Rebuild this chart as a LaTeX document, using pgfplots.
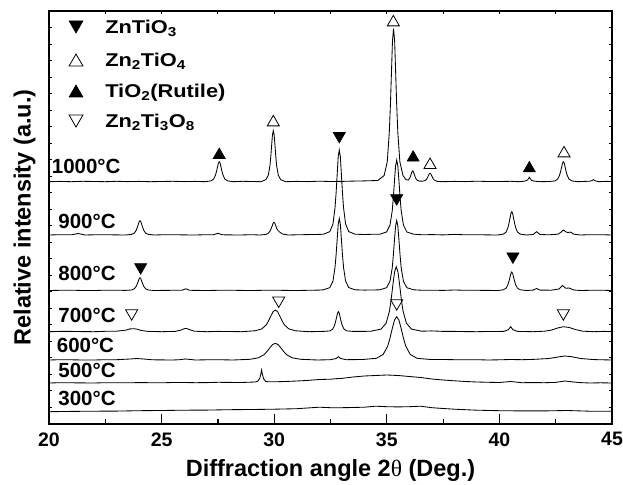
\documentclass[border=0pt]{standalone}
\usepackage{pgfplots}
\pgfplotsset{compat=1.18}
\usepackage{fontspec}
\setmainfont{Liberation Sans}
\newfontfamily\greekserif{Liberation Serif}
\newfontfamily\legfont{Liberation Sans}[FakeStretch=1.18]

\pgfplotsset{
  xrd/.style={black, line width=0.85pt, no markers, forget plot},
  peakdn/.style={only marks, mark=triangle*, mark size=7pt, forget plot,
    mark options={rotate=180, fill=black, draw=black, line width=0.6pt}},
  peakdnopen/.style={only marks, mark=triangle, mark size=7pt, forget plot,
    mark options={rotate=180, draw=black, line width=0.8pt}},
  peakup/.style={only marks, mark=triangle*, mark size=7pt, forget plot,
    mark options={fill=black, draw=black, line width=0.6pt}},
  peakupopen/.style={only marks, mark=triangle, mark size=7pt, forget plot,
    mark options={draw=black, line width=0.8pt}},
}

\begin{document}
\begin{tikzpicture}
\useasboundingbox (-49pt,-60pt) rectangle (574pt,424pt);

% frame, bottom ticks, labels, data
\begin{axis}[
  scale only axis, width=563pt, height=413pt,
  xmin=20, xmax=45, ymin=0, ymax=413,
  axis line style={line width=1.6pt},
  xtick={20,25,30,35,40,45},
  xticklabels={20,25,30,35,40,45},
  minor xtick={22.5,27.5,32.5,37.5,42.5},
  xtick pos=left, ytick=\empty,
  tick align=inside,
  major tick length=9.5pt, minor tick length=4.7pt,
  tick style={line width=1.2pt, black},
  xticklabel style={font=\bfseries\fontsize{19.5}{22}\selectfont, yshift=-5pt},
  xlabel={Diffraction angle 2{\greekserif\mdseries θ} (Deg.)},
  xlabel style={font=\bfseries\fontsize{23.5}{26}\selectfont,
    at={(axis description cs:0.5,0)}, anchor=base, yshift=-52pt},
  ylabel={Relative intensity (a.u.)},
  ylabel style={font=\bfseries\fontsize{23.5}{26}\selectfont,
    at={(axis description cs:-0.0328,0.5)}, anchor=base},
]

% 1000 C
\addplot[xrd, yshift=242.3pt] coordinates {
(20,0)(20.5,0.3)(21,0)(21.5,0.4)(22,0.2)(22.5,0)(23,0.4)(23.5,0.1)(24,0.3)(24.5,0)
(25,0.2)(25.5,0.4)(26,0.1)(26.5,0.3)(26.935,0)
(27.185,0.8)(27.31,2.6)(27.39,6.4)(27.435,10)(27.48,14.4)(27.52,18.4)(27.56,20)
(27.60,18.4)(27.64,14.4)(27.685,10)(27.73,6.4)(27.81,2.6)(27.935,0.8)(28.185,0)
(28.6,0.4)(29,0.2)(29.41,0)
(29.63,2)(29.74,6.6)(29.813,16.3)(29.85,25.5)(29.887,36.7)(29.923,46.9)(29.96,51)
(29.997,46.9)(30.033,36.7)(30.07,25.5)(30.107,16.3)(30.18,6.6)(30.29,2)(30.51,0)
(31,0.3)(31.5,0.1)(32,0.5)(32.5,0.2)(33,0.3)(33.5,0.6)(34,0.8)(34.3,1)(34.6,1.2)
(34.88,6.1)(35.02,19.9)(35.11,49)(35.16,76.5)(35.208,110)(35.252,140.8)(35.3,153)
(35.348,140.8)(35.392,110)(35.44,76.5)(35.49,49)(35.58,19.9)(35.72,6.1)
(35.85,2)(35.95,1.6)(36.016,3.4)(36.05,5.35)(36.084,7.7)(36.116,9.8)(36.15,10.7)
(36.184,9.8)(36.216,7.7)(36.25,5.35)(36.284,3.4)(36.35,1.4)(36.45,0.6)(36.59,0.5)
(36.70,1.1)(36.773,2.7)(36.81,4.2)(36.847,6)(36.883,7.7)(36.92,8.4)(36.957,7.7)
(36.993,6)(37.03,4.2)(37.067,2.7)(37.14,1.1)(37.25,0.3)(37.47,0)
(38,0.3)(38.5,0.1)(39,0.5)(39.5,0.2)(40,0.2)(40.5,0.4)(40.9,0)
(41.13,0.6)(41.23,1.4)(41.28,2.6)(41.33,4.4)(41.38,2.6)(41.43,1.4)(41.53,0.6)(41.8,0)
(42.215,0.2)(42.465,0.8)(42.59,2.6)(42.67,6.4)(42.715,10)(42.76,14.4)(42.80,18.4)
(42.84,20)(42.88,18.4)(42.92,14.4)(42.965,10)(43.01,6.4)(43.09,2.6)(43.215,0.8)
(43.465,0)(43.8,0.3)(44.0,0.5)(44.1,1)(44.17,2)(44.24,1)(44.4,0)(44.7,0.3)(45,0.2)
};

% 900 C
\addplot[xrd, yshift=189pt] coordinates {
(20,0)(20.5,0.3)(21,0.2)(21.3,1.5)(21.6,0)(22,0.2)(22.5,0.3)(23,0.1)(23.4,0)
(23.665,0.6)(23.79,1.9)(23.87,4.6)(23.915,7.2)(23.96,10.3)(24.0,13.2)(24.04,14.3)
(24.08,13.2)(24.12,10.3)(24.165,7.2)(24.21,4.6)(24.29,1.9)(24.415,0.6)(24.665,0)
(25,0.2)(25.5,0.3)(26,0.1)(26.5,0)(27,0.3)(27.3,0.2)(27.5,1.7)(27.7,0.2)(28,0.1)
(28.5,0)(29,0.3)(29.365,0)
(29.615,0.5)(29.74,1.7)(29.82,4.1)(29.865,6.4)(29.91,9.1)(29.95,11.7)(29.99,12.7)
(30.03,11.7)(30.07,9.1)(30.115,6.4)(30.16,4.8)(30.24,3.0)(30.365,1.0)(30.615,0)
(31,0.2)(31.5,0.4)(32,0.6)
(32.19,0.8)(32.47,3.4)(32.61,11)(32.70,27.2)(32.75,42.5)(32.798,61.2)(32.842,78.2)
(32.89,85)(32.938,78.2)(32.982,61.2)(33.03,42.5)(33.08,27.2)(33.17,11)(33.31,3.4)
(33.59,0.8)(34,0.5)(34.5,0.8)
(34.69,0.8)(34.99,3)(35.14,9.8)(35.24,24)(35.29,37.5)(35.34,54)(35.39,69)(35.44,75)
(35.49,69)(35.54,54)(35.59,37.5)(35.64,24)(35.74,9.8)(35.89,3)(36.19,0.8)
(36.6,0.2)(37,0.4)(37.5,0.1)(38,0.6)(38.5,0.2)(39,0.3)(39.5,0.1)(39.925,0)
(40.175,0.9)(40.30,3)(40.38,7.5)(40.425,11.7)(40.47,16.8)(40.51,21.4)(40.55,23.3)
(40.59,21.4)(40.63,16.8)(40.675,11.7)(40.72,7.5)(40.80,3)(40.925,0.9)(41.2,0)
(41.5,0.5)(41.65,3.3)(41.8,0.5)(42.2,0.2)(42.6,0.8)(42.72,2.5)(42.84,5)(42.96,3)
(43.05,2.4)(43.15,3)(43.3,0.8)(43.6,0)(44,0.3)(44.5,0.3)(45,0)
};

% 800 C
\addplot[xrd, yshift=133.5pt] coordinates {
(20,0)(20.5,0.2)(21,0.3)(21.5,0)(22,0)(22.5,0.3)(23,0.3)(23.4,0.1)
(23.665,0.5)(23.79,1.7)(23.87,4.1)(23.915,6.4)(23.96,9.1)(24.0,11.7)(24.04,12.7)
(24.08,11.7)(24.12,9.1)(24.165,6.4)(24.21,4.1)(24.29,1.7)(24.415,0.5)(24.665,0)
(25,0.1)(25.5,0.2)(25.9,0.2)(26.07,1.7)(26.25,0.2)(26.6,0.1)(27,0)(27.5,0.2)(28,0.3)
(28.5,0.1)(29,0)(29.5,0.2)(30,0.3)(30.5,0.1)(31,0)(31.5,0.2)(32,0.4)
(32.19,0.7)(32.47,2.9)(32.61,9.4)(32.70,23)(32.75,36)(32.798,51.8)(32.842,66.2)
(32.89,72)(32.938,66.2)(32.982,51.8)(33.03,36)(33.08,23)(33.17,9.4)(33.31,2.9)
(33.59,0.7)(34,0.4)(34.4,0.5)(34.69,0.7)
(34.99,2.8)(35.14,9.1)(35.24,22.4)(35.29,35)(35.34,50.4)(35.39,64.4)(35.44,70)
(35.49,64.4)(35.54,50.4)(35.59,35)(35.64,22.4)(35.74,9.1)(35.89,2.8)(36.19,0.7)
(36.6,0.2)(37,0.3)(37.5,0.1)(38,0.5)(38.5,0.2)(39,0.2)(39.5,0.1)(39.925,0)
(40.175,0.7)(40.30,2.4)(40.38,5.9)(40.425,9.3)(40.47,13.3)(40.51,17)(40.55,18.5)
(40.59,17)(40.63,13.3)(40.675,9.3)(40.72,5.9)(40.80,2.4)(40.925,0.7)(41.2,0)
(41.5,0.4)(41.65,2)(41.8,0.4)(42.3,0.3)(42.65,1.5)(42.8,5)(42.95,2.2)(43.1,2.5)
(43.3,0.5)(43.6,0)(44,0.2)(44.5,0.3)(45,0)
};

% 700 C
\addplot[xrd, yshift=92.3pt] coordinates {
(20,0)(20.5,0.3)(21,0.3)(21.5,0.1)(22,0)(22.5,0.4)(23,0.5)(23.4,1.5)(23.6,2.8)
(23.75,3)(23.9,2.6)(24.1,1.2)(24.4,0.3)(25,0)(25.6,0.3)(25.85,1.5)(26,3)(26.1,3.3)
(26.25,2)(26.45,0.5)(27,0)(27.5,0.3)(28,0.2)(28.55,0)
(29.15,0.9)(29.45,2.8)(29.65,6.9)(29.75,10.9)(29.85,15.6)(29.95,20)(30.05,21.7)
(30.15,20)(30.25,15.6)(30.35,10.9)(30.45,6.9)(30.65,2.8)(30.95,0.9)(31.55,0)
(32.2,0.3)(32.475,0.8)(32.60,2.6)(32.68,6.4)(32.725,10)(32.77,14.4)(32.81,18.4)
(32.85,20)(32.89,18.4)(32.93,14.4)(32.975,10)(33.02,6.4)(33.10,2.6)(33.225,0.8)
(33.5,0.3)(34,0.3)(34.295,0.5)
(34.745,2.6)(34.97,8.5)(35.12,20.8)(35.195,32.5)(35.27,46.8)(35.345,59.8)(35.42,65)
(35.495,59.8)(35.57,46.8)(35.645,32.5)(35.72,20.8)(35.87,8.5)(36.095,2.6)(36.545,0.5)
(37,0.8)(37.5,0.3)(38,0.3)(38.5,0.1)(39,0)(39.5,0.2)(40.2,0.3)(40.4,2)(40.5,5)
(40.6,2)(40.8,0.3)(41.5,0)(42,0.5)(42.3,1.5)(42.6,3.8)(42.85,5)(43.1,4.2)(43.4,2)
(43.7,0.5)(44.2,0)(44.6,0.3)(45,0.2)
};

% 600 C
\addplot[xrd, yshift=64pt] coordinates {
(20,0)(20.5,0.3)(21,0.2)(21.5,0)(22,0)(22.5,0.3)(23,0.3)(23.6,1)(23.9,1.5)(24.2,1)
(24.6,0.2)(25,0.1)(25.5,0)(25.8,0.3)(26.07,1)(26.5,0)(27,0.2)(27.5,0.3)(28.175,0)
(28.925,0.7)(29.3,2.2)(29.55,5.3)(29.675,8.4)(29.8,12)(29.925,15.4)(30.05,16.7)
(30.175,15.4)(30.30,12)(30.425,8.4)(30.55,5.3)(30.80,2.2)(31.175,0.7)(31.925,0)
(32.5,0.3)(32.75,1.5)(32.85,3.3)(32.95,1.5)(33.2,0.3)(33.94,0.5)
(34.54,1.7)(34.84,5.6)(35.04,13.9)(35.14,21.7)(35.24,31.2)(35.34,39.8)(35.44,43.3)
(35.54,39.8)(35.64,31.2)(35.74,21.7)(35.84,13.9)(36.04,5.6)(36.34,1.7)(36.94,0.5)
(37.5,0.5)(38,0.3)(38.5,0.2)(39,0.3)(39.5,0)(40,0.2)(40.5,0.5)(41,0.3)(41.5,0.6)
(42.2,1.5)(42.6,3)(42.9,4)(43.2,3.3)(43.6,1.5)(44.2,0.4)(44.6,0.2)(45,0)
};

% 500 C
\addplot[xrd, yshift=41pt] coordinates {
(20,0)(20.5,0.3)(21,0.2)(21.5,0.1)(22,0)(22.5,0.3)(23,0.3)(23.5,0.2)(24,0.4)
(24.5,0.3)(25,0.2)(25.5,0.5)(26,0.5)(26.5,0.3)(27,0.4)(27.5,0.7)(28,0.6)(28.5,0.5)
(28.8,0.7)(29.15,1)(29.26,1.6)(29.35,4.2)(29.38,6.5)(29.41,9.4)(29.44,13)
(29.47,9.4)(29.50,6.5)(29.53,4.2)(29.62,1.6)(29.75,1.2)(30,1.2)(30.5,1.5)(31,2)
(31.5,2.6)(32,3.5)(32.5,3.8)(32.85,4.5)(33,4.6)(33.5,6)(34,7)(34.5,7.5)(35,8)
(35.5,7.5)(36,6.5)(36.5,5.5)(37,4)(37.5,3)(38,2.2)(38.5,1.5)(39,1)(39.5,0.7)
(40,0.5)(40.5,1.5)(41,0.3)(41.5,0.4)(42,0.3)(42.5,0.6)(42.9,2)(43.5,0.5)(44,0)
(44.5,0.2)(45,0)
};

% 300 C
\addplot[xrd, yshift=12.3pt] coordinates {
(20,0)(21,0.3)(22,0.5)(23,0.6)(24,1)(25,1.2)(26,1.5)(27,1.6)(28,2)(29,2.2)(30,2.5)
(31,3)(32,4.5)(32.5,4)(33,4)(33.5,4.2)(34,4.5)(34.5,5.5)(35,5)(35.5,4.8)(36,5)
(36.5,5.5)(37,4)(37.5,3.2)(38,2.5)(39,1.5)(40,1)(41,0.8)(42,0.8)(43,1.2)(44,0.5)
(45,0.5)
};

% peak markers
\addplot[peakup] coordinates {(27.56,269)(36.17,266.3)(41.33,255.6)};
\addplot[peakupopen] coordinates {(29.96,301.6)(35.29,401.6)(36.92,259)(42.87,270.6)};
\addplot[peakdn] coordinates {(32.89,288)(35.44,225.8)(24.07,156.8)(40.6,167.5)};
\addplot[peakdnopen] coordinates {(23.67,110.8)(30.2,123.5)(35.44,120.8)(42.84,110.8)};

% key of the phase symbols
\addplot[peakdn, mark size=8pt] coordinates {(21.2,399)};
\addplot[peakupopen, mark size=8pt] coordinates {(21.2,362)};
\addplot[peakup, mark size=8pt] coordinates {(21.2,331)};
\addplot[peakdnopen, mark size=8pt] coordinates {(21.2,305)};
\begin{scope}[every node/.style={anchor=base west, inner sep=0pt,
    font=\legfont\bfseries\fontsize{18.5}{20}\selectfont}]
\node at (axis cs:22.49,390.4) {ZnTiO\textsubscript{3}};
\node at (axis cs:22.49,357.4) {Zn\textsubscript{2}TiO\textsubscript{4}};
\node at (axis cs:22.49,326.4) {TiO\textsubscript{2}(Rutile)};
\node at (axis cs:22.49,296.4) {Zn\textsubscript{2}Ti\textsubscript{3}O\textsubscript{8}};
\end{scope}

% temperature labels
\begin{scope}[every node/.style={anchor=west, inner sep=0pt,
    font=\bfseries\fontsize{20.5}{22}\selectfont}]
\node at (axis cs:20.12,257.3) {1000°C};
\node at (axis cs:20.41,203) {900°C};
\node at (axis cs:20.41,150.7) {800°C};
\node at (axis cs:20.41,109) {700°C};
\node at (axis cs:20.34,79) {600°C};
\node at (axis cs:20.41,54) {500°C};
\node at (axis cs:20.41,25.7) {300°C};
\end{scope}
\end{axis}

% short ticks on top and on both sides
\begin{axis}[
  scale only axis, width=563pt, height=413pt,
  xmin=20, xmax=45, ymin=0, ymax=413,
  axis line style={draw=none},
  xtick={20,25,30,35,40,45}, minor xtick={22.5,27.5,32.5,37.5,42.5},
  xtick pos=right, xticklabels={},
  ytick distance=16.52, ytick pos=both, yticklabels={},
  tick label style={opacity=0},
  tick align=inside,
  major tick length=3pt, minor tick length=3pt,
  tick style={line width=1pt, black},
]
\end{axis}
\end{tikzpicture}
\end{document}
